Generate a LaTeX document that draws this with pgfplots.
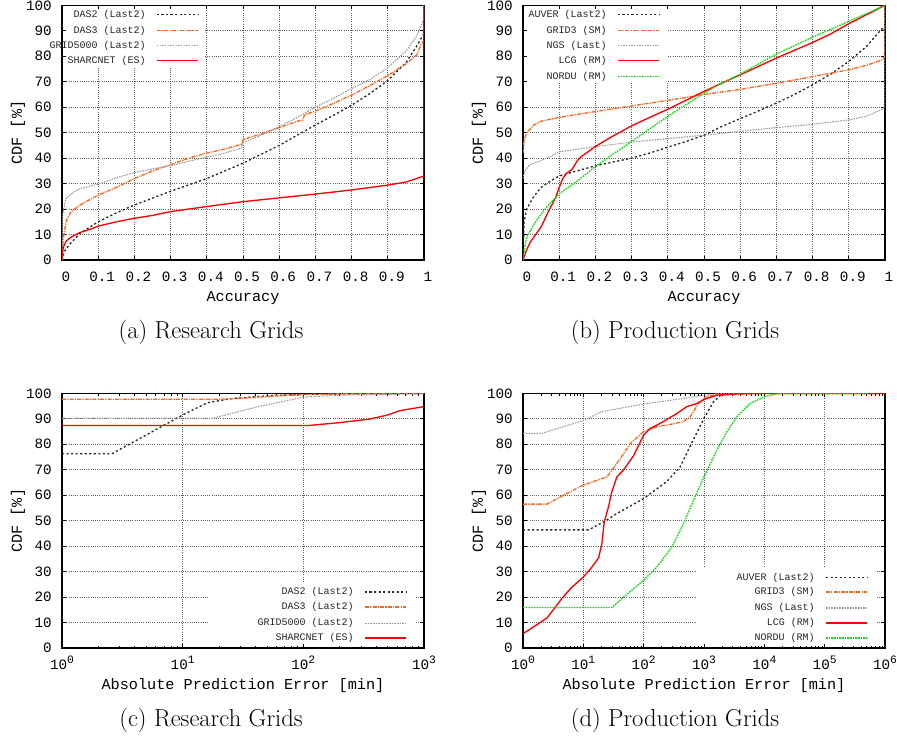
\documentclass[border=0pt]{standalone}
\usepackage{fontspec}
\usepackage{pgfplots}
\pgfplotsset{compat=1.18}
\newfontfamily\mono{Liberation Mono}
\definecolor{orng}{RGB}{255,100,30}
\definecolor{grn}{RGB}{20,220,20}
\definecolor{dkg}{RGB}{40,40,40}
\definecolor{ltg}{RGB}{155,155,155}
\newcommand\tp[1]{10\raisebox{4pt}{\fontsize{8.5}{9}\selectfont #1}}
\tikzset{lt/.style={anchor=east, inner sep=0pt, text height=5.5pt, text depth=1.2pt, font=\mono\fontsize{7.5}{8}\selectfont, text=black!85}}
\pgfplotsset{
 cdf/.style={
  clip mode=individual,
  scale only axis, width=271.5pt, height=191pt,
  anchor=south west,
  ymin=0, ymax=100, ytick={0,10,...,100},
  tick align=inside, tick pos=both,
  major tick length=3pt, minor tick length=1.8pt,
  every tick/.style={black, line width=0.6pt},
  axis line style={line width=0.9pt, black},
  grid=major,
  major grid style={line width=0.6pt, dash pattern=on 0.75pt off 0.9pt, black!62},
  /pgf/number format/assume math mode=true,
  tick label style={font=\mono\fontsize{10.7}{12}\selectfont, inner sep=0pt, black},
  yticklabel style={anchor=east, xshift=-7.5pt},
  xticklabel style={anchor=base, yshift=-15.75pt},
  ylabel={CDF [\%]},
  label style={font=\mono\fontsize{11.4}{13}\selectfont, inner sep=0pt},
  ylabel style={at={(axis description cs:-0.1215,0.5)}, anchor=center},
  xlabel style={at={(axis description cs:0.5,-0.1492)}, anchor=center},
 },
 blank/.style={draw=none, fill=white, forget plot},
 sA/.style={color=dkg, line width=1pt, dash pattern=on 1.6pt off 1.8pt},
 sB/.style={color=orng, line width=1pt, dash pattern=on 3pt off 0.9pt on 0.9pt off 0.9pt},
 sC/.style={color=ltg, line width=0.8pt, dash pattern=on 1.2pt off 0.8pt},
 sD/.style={color=red, line width=1pt, solid},
 sE/.style={color=grn, line width=1pt, dash pattern=on 1.25pt off 0.75pt},
}
\begin{document}
\begin{tikzpicture}
% (a)
\begin{axis}[cdf, at={(46.5pt,-195pt)}, xmin=0, xmax=1,
  xtick={0,0.1,0.2,0.3,0.4,0.5,0.6,0.7,0.8,0.9,1},
  xticklabels={0,0.1,0.2,0.3,0.4,0.5,0.6,0.7,0.8,0.9,1},
  xticklabel style={xshift=3pt}, xlabel={Accuracy}]
\addplot[blank] coordinates {(0.0118,76) (0.395,76) (0.395,98.3) (0.0118,98.3)};
\addplot[sA] coordinates {(0,0) (0.005,3) (0.02,6) (0.05,10.5) (0.1,15) (0.15,18.5) (0.2,21.6) (0.25,24.3) (0.3,27) (0.35,29.5) (0.4,32) (0.45,35) (0.5,38) (0.55,41.5) (0.6,45) (0.65,49) (0.7,53) (0.75,56.8) (0.8,60.8) (0.85,65.3) (0.9,70.5) (0.95,77.5) (0.98,84) (1,89) (1,100)};
\addplot[sB] coordinates {(0,0) (0.003,8) (0.012,15.5) (0.025,19) (0.05,21.6) (0.08,24) (0.1,25.5) (0.15,28.5) (0.2,32) (0.25,35) (0.3,37.5) (0.35,40) (0.4,42) (0.45,43.6) (0.498,45.5) (0.5,47.3) (0.55,49.5) (0.6,52) (0.65,54.5) (0.665,55) (0.67,57) (0.7,58.5) (0.75,61.5) (0.8,64.8) (0.85,68.5) (0.9,72.4) (0.95,77) (0.98,80.6) (0.993,85) (1,86) (1,100)};
\addplot[sC] coordinates {(0,0) (0.002,18) (0.01,24) (0.03,26.5) (0.05,28) (0.1,29.8) (0.15,32.3) (0.2,34.3) (0.25,35.8) (0.3,37) (0.35,38.8) (0.4,40.4) (0.45,42) (0.495,43.9) (0.5,46) (0.55,49) (0.6,52.4) (0.65,56) (0.7,60) (0.75,63.5) (0.8,67.3) (0.85,70.8) (0.9,75.5) (0.95,82) (0.98,88) (0.995,93) (1,95) (1,100)};
\addplot[sD] coordinates {(0,0) (0.001,3) (0.005,5.5) (0.012,7.5) (0.025,9) (0.05,10.8) (0.08,12.2) (0.1,13.3) (0.15,15) (0.2,16.4) (0.25,17.5) (0.3,19) (0.4,21) (0.5,22.9) (0.6,24.4) (0.7,25.9) (0.8,27.5) (0.9,29.4) (0.95,30.6) (0.99,32.5) (1,33) (1,100)};
% legend
\addplot[sA, forget plot] coordinates {(0.262,96.5) (0.376,96.5)};
\addplot[sB, forget plot] coordinates {(0.262,90.2) (0.376,90.2)};
\addplot[sC, forget plot] coordinates {(0.262,84.3) (0.376,84.3)};
\addplot[sD, forget plot] coordinates {(0.262,78.3) (0.376,78.3)};
\node[lt] at (axis cs:0.232,96.5) {DAS2 (Last2)};
\node[lt] at (axis cs:0.232,90.2) {DAS3 (Last2)};
\node[lt] at (axis cs:0.232,84.3) {GRID5000 (Last2)};
\node[lt] at (axis cs:0.232,78.3) {SHARCNET (ES)};
\end{axis}
% (b)
\begin{axis}[cdf, at={(392.25pt,-195pt)}, xmin=0, xmax=1,
  xtick={0,0.1,0.2,0.3,0.4,0.5,0.6,0.7,0.8,0.9,1},
  xticklabels={0,0.1,0.2,0.3,0.4,0.5,0.6,0.7,0.8,0.9,1},
  xticklabel style={xshift=3pt}, xlabel={Accuracy}]
\addplot[blank] coordinates {(0.0118,70) (0.40,70) (0.40,98.3) (0.0118,98.3)};
\addplot[sA] coordinates {(0,0) (0.003,15) (0.01,20) (0.03,25) (0.05,28.5) (0.07,30.5) (0.1,33) (0.15,35) (0.2,37) (0.25,38.5) (0.3,40) (0.35,42) (0.4,44.3) (0.45,46.5) (0.5,49) (0.55,52.5) (0.6,55.5) (0.65,58.5) (0.7,61.6) (0.75,65) (0.8,68.8) (0.85,73) (0.9,78) (0.95,84) (0.98,89) (1,92) (1,100)};
\addplot[sB] coordinates {(0,42) (0.003,47) (0.01,50) (0.03,53) (0.05,54.5) (0.1,56) (0.15,57.2) (0.2,58.3) (0.3,60.5) (0.4,62.7) (0.5,65) (0.6,67) (0.7,69.4) (0.8,72) (0.9,74.7) (0.95,76.5) (0.99,78.5) (1,80) (1,100)};
\addplot[sC] coordinates {(0,32) (0.005,35) (0.02,37.5) (0.05,39) (0.08,41) (0.1,42.5) (0.15,43.5) (0.2,44.5) (0.3,46.3) (0.4,47.7) (0.5,49) (0.6,50.5) (0.7,52) (0.8,53.3) (0.9,55) (0.95,56.5) (0.99,59) (1,60) (1,100)};
\addplot[sD] coordinates {(0,0) (0.01,4) (0.02,7) (0.03,9) (0.05,13) (0.07,19) (0.09,24.5) (0.1,28.5) (0.11,32) (0.12,34) (0.135,35.5) (0.15,39) (0.16,40.5) (0.2,44.6) (0.25,48.8) (0.3,52.7) (0.35,56) (0.4,59.2) (0.45,62.7) (0.5,66.2) (0.55,69.5) (0.6,72.7) (0.7,79.3) (0.8,85.4) (0.85,88.8) (0.9,92.8) (0.95,96.4) (1,100)};
\addplot[sE] coordinates {(0,0) (0.005,5) (0.01,9) (0.03,14) (0.05,18) (0.07,21.5) (0.1,26) (0.15,31) (0.2,36.7) (0.25,41.7) (0.3,46.5) (0.35,51.5) (0.4,56.4) (0.45,61) (0.5,65.5) (0.55,69.5) (0.6,73) (0.7,80.9) (0.8,87.5) (0.9,93.7) (1,100)};
% legend
\addplot[sA, forget plot] coordinates {(0.262,96.5) (0.376,96.5)};
\addplot[sB, forget plot] coordinates {(0.262,90.2) (0.376,90.2)};
\addplot[sC, forget plot] coordinates {(0.262,84.3) (0.376,84.3)};
\addplot[sD, forget plot] coordinates {(0.262,78.3) (0.376,78.3)};
\addplot[sE, forget plot] coordinates {(0.262,72.0) (0.376,72.0)};
\node[lt] at (axis cs:0.232,96.5) {AUVER (Last2)};
\node[lt] at (axis cs:0.232,90.2) {GRID3 (SM)};
\node[lt] at (axis cs:0.232,84.3) {NGS (Last)};
\node[lt] at (axis cs:0.232,78.3) {LCG (RM)};
\node[lt] at (axis cs:0.232,72.0) {NORDU (RM)};
\end{axis}
% (c)
\begin{semilogxaxis}[cdf, at={(46.5pt,-486pt)}, xmin=1, xmax=1000,
  xtick={1,10,100,1000}, xticklabels={\tp0,\tp1,\tp2,\tp3},
  xlabel={Absolute Prediction Error [min]}]
\addplot[blank] coordinates {(16.5,1.7) (841,1.7) (841,25.9) (16.5,25.9)};
\addplot[sA] coordinates {(1,76.3) (2.6,76.3) (10,91.5) (16,96.3) (26,98) (50,99) (100,99.6) (1000,100)};
\addplot[sB] coordinates {(1,97.7) (20,97.7) (30,98) (60,99) (100,99.5) (200,99.8) (1000,100)};
\addplot[sC] coordinates {(1,90.2) (18,90.3) (40,94.5) (100,98.5) (200,99.3) (1000,99.8)};
\addplot[sD] coordinates {(1,87.4) (112,87.4) (200,88.5) (355,89.9) (500,91.5) (630,93.2) (1000,94.8)};
% legend
\addplot[sA, forget plot] coordinates {(324,22.0) (709,22.0)};
\addplot[sB, forget plot] coordinates {(324,16.1) (709,16.1)};
\addplot[sC, forget plot] coordinates {(324,9.8) (709,9.8)};
\addplot[sD, forget plot] coordinates {(324,3.9) (709,3.9)};
\node[lt] at (axis cs:263,22.0) {DAS2 (Last2)};
\node[lt] at (axis cs:263,16.1) {DAS3 (Last2)};
\node[lt] at (axis cs:263,9.8) {GRID5000 (Last2)};
\node[lt] at (axis cs:263,3.9) {SHARCNET (ES)};
\end{semilogxaxis}
% (d)
\begin{semilogxaxis}[cdf, at={(392.25pt,-486pt)}, xmin=1, xmax=1000000,
  xtick={1,10,100,1000,10000,100000,1000000}, xticklabels={\tp0,\tp1,\tp2,\tp3,\tp4,\tp5,\tp6},
  xlabel={Absolute Prediction Error [min]}]
\addplot[blank] coordinates {(769,1.7) (738000,1.7) (738000,31.8) (769,31.8)};
\addplot[sA] coordinates {(1,46.4) (12.2,46.4) (21.6,49.5) (36,52.8) (100,58.7) (240,65.3) (400,71) (660,81.6) (1000,90.2) (1440,96.7) (1900,99.3) (3000,100) (1000000,100)};
\addplot[sB] coordinates {(1,56.5) (2.5,56.5) (4.7,60) (10,64) (24.6,67.2) (30,69.9) (41,74.4) (60,80.3) (100,85) (165,86.9) (275,87.8) (458,88.9) (590,90.8) (810,96) (1100,98.7) (1500,99.3) (10000,100) (1000000,100)};
\addplot[sC] coordinates {(1,84.3) (2.05,84.3) (10,89.3) (20,92.8) (100,95.8) (458,98) (1000,99.3) (2000,100) (1000000,100)};
\addplot[sD] coordinates {(1,5.6) (2.5,11.8) (4.4,19.4) (6.1,23.3) (10,27.9) (13,30.9) (17.9,35.4) (20.3,41) (22.2,49.5) (26.1,55.4) (29.6,61.3) (36,67.2) (46.4,69.9) (67.6,75.4) (100,83.6) (128,86.2) (212,88.9) (355,92.1) (520,94.8) (760,96) (1000,97.6) (1630,99.3) (4500,100) (1000000,100)};
\addplot[sE] coordinates {(1,15.9) (29.6,15.9) (46.4,20) (100,26.6) (165,31.8) (294,39.7) (458,48.9) (710,59.4) (1000,67.2) (1630,77.7) (2400,85) (3500,90.8) (5800,96) (10000,98.7) (18000,100) (500000,100)};
% legend
\addplot[sA, forget plot] coordinates {(105200,27.8) (503500,27.8)};
\addplot[sB, forget plot] coordinates {(105200,22.0) (503500,22.0)};
\addplot[sC, forget plot] coordinates {(105200,15.7) (503500,15.7)};
\addplot[sD, forget plot] coordinates {(105200,9.8) (503500,9.8)};
\addplot[sE, forget plot] coordinates {(105200,3.9) (503500,3.9)};
\node[lt] at (axis cs:69200,27.8) {AUVER (Last2)};
\node[lt] at (axis cs:69200,22.0) {GRID3 (SM)};
\node[lt] at (axis cs:69200,15.7) {NGS (Last)};
\node[lt] at (axis cs:69200,9.8) {LCG (RM)};
\node[lt] at (axis cs:69200,3.9) {NORDU (RM)};
\end{semilogxaxis}
\node[anchor=base, font=\fontsize{18.4}{20}\selectfont] at (158.25pt,-253.5pt) {(a) Research Grids};
\node[anchor=base, font=\fontsize{18.4}{20}\selectfont] at (506.25pt,-253.5pt) {(b) Production Grids};
\node[anchor=base, font=\fontsize{18.4}{20}\selectfont] at (158.25pt,-544.5pt) {(c) Research Grids};
\node[anchor=base, font=\fontsize{18.4}{20}\selectfont] at (506.25pt,-544.5pt) {(d) Production Grids};
\pgfresetboundingbox
\useasboundingbox (0,0) rectangle (672.75pt,-552pt);
\end{tikzpicture}
\end{document}
